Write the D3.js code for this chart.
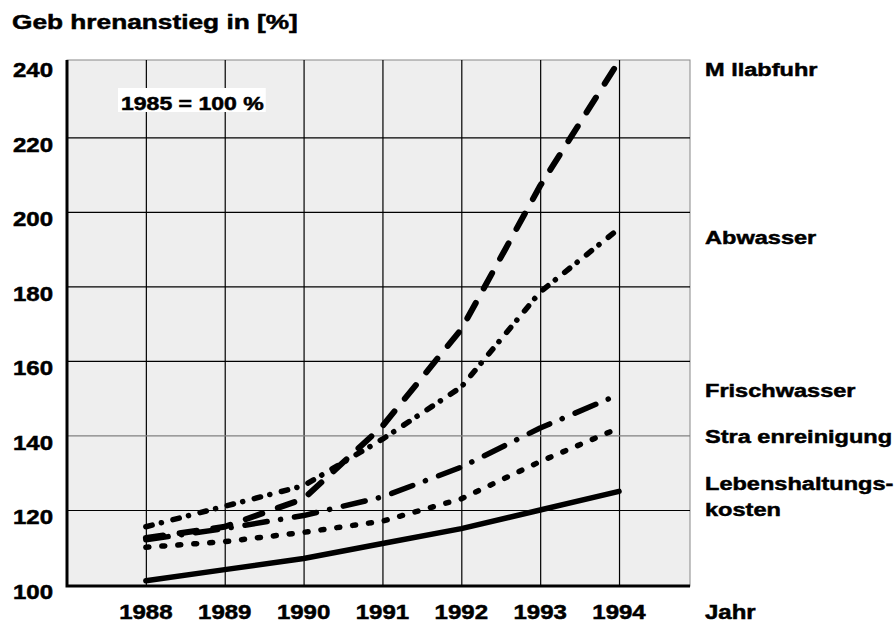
<!DOCTYPE html>
<html>
<head>
<meta charset="utf-8">
<script src="https://cdn.jsdelivr.net/npm/d3@7"></script>
<style>
  body { margin: 0; background: #fff; }
  text { font-family: "Liberation Sans", Arial, sans-serif; font-weight: bold; fill: #000; stroke: #000; stroke-width: 0.5; }
</style>
</head>
<body>
<div id="chart"></div>
<script>
var years = [1988, 1989, 1990, 1991, 1992, 1993, 1994]
var yTicks = [100, 120, 140, 160, 180, 200, 220, 240]

var muellabfuhr       = [112.5, 115.5, 123, 142.5, 168.5, 207, 240.5]
var abwasser          = [115.5, 121, 126.5, 139, 153, 178.5, 195.5]
var frischwasser      = [112, 115, 118.5, 123.5, 131.5, 142, 151]
var strassenreinigung = [110, 111.5, 114, 117, 123, 133, 142]
var lebenshaltung     = [101, 104, 107, 111, 115, 120, 125]

var seriesNames = ['M llabfuhr', 'Abwasser', 'Frischwasser', 'Stra enreinigung', 'Lebenshaltungs-']

var width = 896, height = 625
var plot = {left: 67, right: 690, top: 60, bottom: 586}

var svg = d3.select('#chart')
  .append('svg')
    .attr('width', width)
    .attr('height', height)

var x = d3.scaleLinear().domain([1987, 1994.9]).range([plot.left, plot.right])
var y = d3.scaleLinear().domain([99.6, 240.75]).range([plot.bottom, plot.top])

// stretched bold text, like the original artwork
function label(tx, ty, str, size, anchor, sx){
  return svg.append('text')
      .attr('transform', 'translate(' + tx + ',' + ty + ') scale(' + (sx || 1.22) + ',1)')
      .attr('font-size', size)
      .attr('text-anchor', anchor || 'start')
      .text(str)
}

// plot background
svg.append('rect')
    .attr('x', plot.left).attr('y', plot.top)
    .attr('width', plot.right - plot.left).attr('height', plot.bottom - plot.top)
    .attr('fill', '#eeeeee')
    .attr('stroke', '#888').attr('stroke-width', 1)

// grid via axes
var xGrid = svg.append('g')
    .attr('transform', 'translate(0,' + plot.bottom + ')')
    .call(d3.axisBottom(x).tickValues(years).tickSize(-(plot.bottom - plot.top)).tickFormat(''))
xGrid.select('.domain').remove()
xGrid.selectAll('line').attr('stroke', '#000').attr('stroke-width', 1.2)

var yGrid = svg.append('g')
    .attr('transform', 'translate(' + plot.left + ',0)')
    .call(d3.axisLeft(y).tickValues(yTicks.slice(1, -1)).tickSize(-(plot.right - plot.left)).tickFormat(''))
yGrid.select('.domain').remove()
yGrid.selectAll('line')
    .attr('stroke', function(d){ return d === 140 ? '#808080' : '#000' })
    .attr('stroke-width', 1.2)

// thick left and bottom frame
svg.append('path')
    .attr('d', 'M' + plot.left + ',' + plot.top + 'V' + plot.bottom + 'H' + plot.right)
    .attr('fill', 'none').attr('stroke', '#000').attr('stroke-width', 3)

// lines
var line = d3.line()
    .x(function(d, i){ return x(years[i]) })
    .y(function(d){ return y(d) })

var styles = [
  {data: lebenshaltung, dash: null, w: 5.5},
  {data: strassenreinigung, dash: '3,13', w: 5.5},
  {data: frischwasser, dash: '22.5,13.5,0.1,14', w: 5.5},
  {data: abwasser, dash: '6.5,9.5,0.1,11.9', w: 5.5},
  {data: muellabfuhr, dash: '17.5,16.5', w: 6}
]

styles.forEach(function(s){
  svg.append('path')
      .attr('d', line(s.data))
      .attr('fill', 'none')
      .attr('stroke', '#000')
      .attr('stroke-width', s.w)
      .attr('stroke-linecap', 'round')
      .attr('stroke-linejoin', 'round')
      .attr('stroke-dasharray', s.dash)
})

// title and axis labels
label(12, 29, 'Geb hrenanstieg in [%]', 21, 'start', 1.25)

yTicks.forEach(function(v){
  label(53, y(v) + 14.5, v, 20, 'end', 1.2)
})
years.forEach(function(v){
  label(x(v), 619, v, 20, 'middle', 1.2)
})
label(705, 619, 'Jahr', 20, 'start', 1.2)

// note box
var note = label(121, 110, '1985 = 100 %', 18, 'start', 1.28)
var bb = note.node().getBBox()
svg.insert('rect', function(){ return note.node() })
    .attr('x', 118).attr('y', 88)
    .attr('width', bb.width * 1.28 + 5).attr('height', 24)
    .attr('fill', '#fff')

// series labels
var lblY = [76, 244, 397, 443, 490]
seriesNames.forEach(function(n, i){
  label(705, lblY[i], n, 19, 'start', 1.24)
})
label(705, 516, 'kosten', 19, 'start', 1.24)
</script>
</body>
</html>
